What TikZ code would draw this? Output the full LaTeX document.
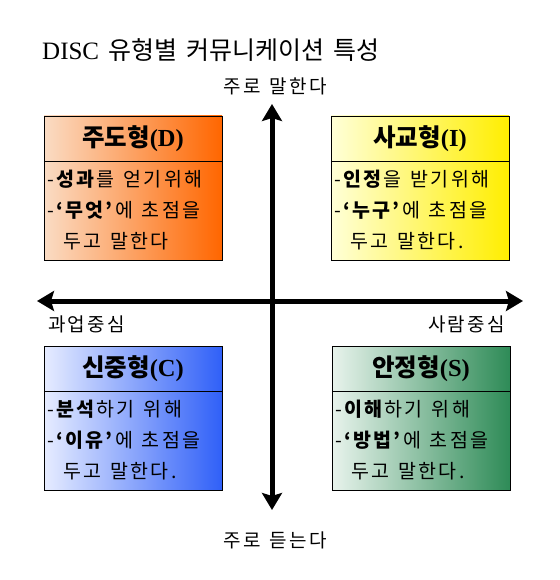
\documentclass[tikz,border=0pt]{standalone}
\usepackage{fontspec}
\setmainfont{Noto Sans CJK KR}
\newfontfamily\latinserif{Liberation Serif}
\newfontfamily\spaced[LetterSpace=12]{Noto Sans CJK KR}
\usetikzlibrary{arrows.meta,positioning}

\definecolor{dLight}{HTML}{FADCC4}
\definecolor{dDark}{HTML}{FF6600}
\definecolor{iLight}{HTML}{FFFFD8}
\definecolor{iDark}{HTML}{FFEE00}
\definecolor{cLight}{HTML}{E6ECFF}
\definecolor{cDark}{HTML}{3060F8}
\definecolor{sLight}{HTML}{E8F3EC}
\definecolor{sDark}{HTML}{2E8B57}

\newcommand\widegap{\spaceskip 9pt\relax}

\begin{document}
\begin{tikzpicture}[
  x=1pt, y=-1pt,
  >={Stealth[width=20pt,length=17pt,inset=3pt]},
  every node/.style={inner sep=0pt},
  card/.style={draw, line width=0.8pt, minimum width=178pt,
               minimum height=144pt},
  head/.style={minimum width=178pt, minimum height=45pt,
               font=\fontsize{24.5}{28}\selectfont\bfseries},
  body/.style={align=left,
               font={\spaced\fontsize{19.5}{31}\selectfont\widegap}},
  axis/.style={line width=5pt},
  axislabel/.style={font={\spaced\fontsize{19}{22}\selectfont\widegap}}
]
  \useasboundingbox (0,0) rectangle (559,580);

  % title
  \node[anchor=west, font={\fontsize{25}{30}\selectfont\widegap}]
    (title) at (42,50) {{\latinserif DISC} 유형별 커뮤니케이션 특성};

  % axes
  \node[axislabel] (talk) at (275,86) {주로 말한다};
  \node[axislabel] (listen) at (275,540) {주로 듣는다};
  \node[axislabel, anchor=west] (task) at (48,324) {과업중심};
  \node[axislabel, anchor=east] (people) at (505,324) {사람중심};
  \coordinate (ntip) at (272,104);
  \coordinate (stip) at (272,510);
  \coordinate (wtip) at (37,301);
  \coordinate (etip) at (523,301);
  \draw[axis, <->] (wtip) -- (etip);
  \draw[axis, <->] (ntip) -- (stip);

  % D
  \node[card, left color=dLight, right color=dDark] (dcard) at (133,188) {};
  \node[head, below=0pt of dcard.north] (dhead) {주도형{\latinserif(D)}};
  \draw (dhead.south west) -- (dhead.south east);
  \node[body, below right=9pt and 3pt of dhead.south west] (dbody)
    {-\textbf{성과}를 얻기위해\\
     -\textbf{‘무엇’}에 초점을\\
     \hspace*{16pt}두고 말한다};

  % I
  \node[card, left color=iLight, right color=iDark] (icard) at (420,188) {};
  \node[head, below=0pt of icard.north] (ihead) {사교형{\latinserif(I)}};
  \draw (ihead.south west) -- (ihead.south east);
  \node[body, below right=9pt and 3pt of ihead.south west] (ibody)
    {-\textbf{인정}을 받기위해\\
     -\textbf{‘누구’}에 초점을\\
     \hspace*{16pt}두고 말한다.};

  % C
  \node[card, left color=cLight, right color=cDark] (ccard) at (133,418) {};
  \node[head, below=0pt of ccard.north] (chead) {신중형{\latinserif(C)}};
  \draw (chead.south west) -- (chead.south east);
  \node[body, below right=9pt and 3pt of chead.south west] (cbody)
    {-\textbf{분석}하기 위해\\
     -\textbf{‘이유’}에 초점을\\
     \hspace*{16pt}두고 말한다.};

  % S
  \node[card, left color=sLight, right color=sDark] (scard) at (421,418) {};
  \node[head, below=0pt of scard.north] (shead) {안정형{\latinserif(S)}};
  \draw (shead.south west) -- (shead.south east);
  \node[body, below right=9pt and 3pt of shead.south west] (sbody)
    {-\textbf{이해}하기 위해\\
     -\textbf{‘방법’}에 초점을\\
     \hspace*{16pt}두고 말한다.};
\end{tikzpicture}
\end{document}
